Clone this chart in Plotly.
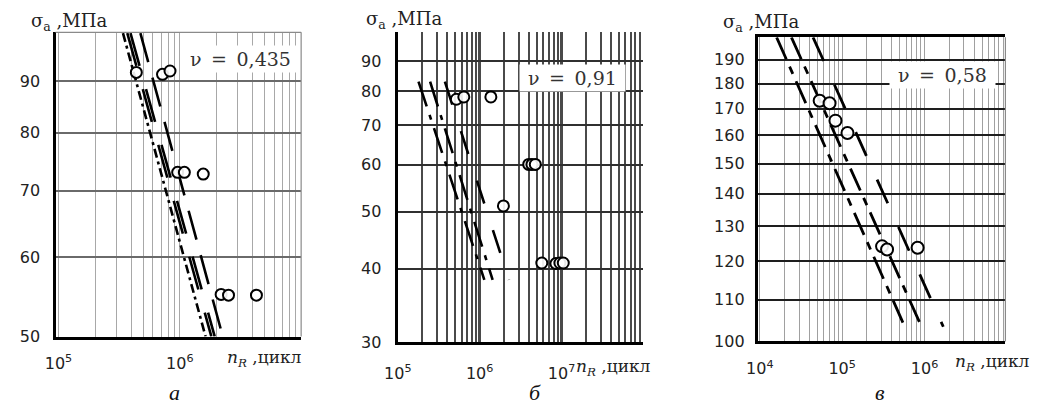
import numpy as np
import plotly.graph_objects as go

# ---------------- data ----------------
# Panel а
a_cycles = [4.38e5, 7.2e5, 8.3e5, 9.6e5, 1.09e6, 1.56e6, 2.19e6, 2.52e6, 4.28e6]
a_stress = [91.9, 91.5, 92.2, 73.0, 73.0, 72.7, 55.1, 55.0, 55.0]
a_curve_cycles = [[3.40e5, 1.63e6], [3.69e5, 1.82e6], [3.92e5, 1.94e6], [4.73e5, 2.26e6]]
a_curve_stress = [100.6, 50.0]
a_nu = "0,435"
a_yticks = [50, 60, 70, 80, 90]
a_xticks = [1e5, 1e6]

# Panel б
b_cycles = [5.19e5, 6.4e5, 1.37e6, 3.97e6, 4.35e6, 4.78e6, 1.95e6, 5.74e6, 8.53e6, 9.55e6, 1.05e7]
b_stress = [77.5, 78.2, 78.2, 60.1, 60.1, 60.1, 51.1, 40.9, 40.8, 40.9, 40.9]
b_curve_cycles = [[1.79e5, 1.14e6], [2.48e5, 1.44e6], [3.76e5, 2.28e6]]
b_curve_stress = [83.0, 38.3]
b_nu = "0,91"
b_yticks = [30, 40, 50, 60, 70, 80, 90]
b_xticks = [1e5, 1e6, 1e7]

# Panel в
c_cycles = [5.33e4, 7.03e4, 8.29e4, 1.16e5, 3.05e5, 3.51e5, 8.24e5]
c_stress = [173.1, 172.1, 165.4, 160.8, 124.2, 123.3, 123.8]
c_curve_cycles = [[1.60e4, 5.75e5], [2.42e4, 9.2e5], [4.43e4, 1.69e6]]
c_curve_stress = [200.0, 103.4]
c_nu = "0,58"
c_yticks = [100, 110, 120, 130, 140, 150, 160, 170, 180, 190]
c_xticks = [1e4, 1e5, 1e6]

panel_letters = ["а", "б", "в"]
y_title = "σ<sub>a</sub> ,МПа"
x_title = "<i>n</i><sub><i>R</i></sub> ,цикл"

# ---------------- layout / style ----------------
PAGE_W, PAGE_H = 1043, 414
BODY = 8                       # default body margin of the html page
W, H = PAGE_W - 2 * BODY, PAGE_H - 2 * BODY
SANS = "DejaVu Sans"
SERIF = "DejaVu Serif"


def px(x):
    return (x - BODY) / W


def py(y):
    return 1 - (y - BODY) / H


def minor_vals(lo, hi):
    vals = []
    for d in range(int(np.floor(lo)), int(np.ceil(hi)) + 1):
        for k in range(2, 10):
            v = k * 10 ** d
            if lo <= np.log10(v) <= hi:
                vals.append(v)
    return vals


panels = [
    dict(cyc=a_cycles, st=a_stress, ccyc=a_curve_cycles, cst=[a_curve_stress] * 4,
         dashes=["9px,4px,3px,4px", "34px,24px", "34px,24px", "30px,16px"],
         nu=a_nu, yt=a_yticks, xt=a_xticks,
         box=(42, 291, 33, 345), xr=(4.9756, 7.0), yr=(np.log10(50), 2.0034),
         vgrid="#a8a8a8", vw=1.4, vmaj=1.4, hgrid="#6a6a6a", hw=1.5,
         msize=11, lw=2.6, xstand=10, ystand=9,
         ytitle=(15, 22), xtitle=(214, 368), nubox=(290, 60), letter=(163, 402),
         axw=3),
    dict(cyc=b_cycles, st=b_stress, ccyc=b_curve_cycles, cst=[b_curve_stress] * 3,
         dashes=["26px,9px,5px,9px", "26px,9px,5px,9px", "24px,28px"],
         nu=b_nu, yt=b_yticks, xt=b_xticks,
         box=(389, 638, 33, 351), xr=(5.0, 8.0), yr=(np.log10(30), 2.0027),
         vgrid="#4a4a4a", vw=1.8, vmaj=3.2, hgrid="#303030", hw=2.0,
         msize=11, lw=2.6, xstand=14, ystand=10,
         ytitle=(355, 20), xtitle=(568, 377), nubox=(620, 80), letter=(528, 402),
         axw=3),
    dict(cyc=c_cycles, st=c_stress, ccyc=c_curve_cycles, cst=[c_curve_stress] * 3,
         dashes=["24px,8px,8px,8px", "24px,8px,8px,8px", "26px,26px"],
         nu=c_nu, yt=c_yticks, xt=c_xticks,
         box=(754, 1005, 38, 350), xr=(3.976, 6.982), yr=(2.0, 2.3011),
         vgrid="#a0a0a0", vw=1.4, vmaj=1.4, hgrid="#1e1e1e", hw=2.0,
         msize=12, lw=2.8, xstand=11, ystand=7,
         ytitle=(717, 23), xtitle=(952, 372), nubox=(995, 77), letter=(878, 402),
         axw=2.6),
]

fig = go.Figure()
annotations = []
shapes = []
layout_axes = {}

for i, p in enumerate(panels):
    n = "" if i == 0 else str(i + 1)
    xa, ya = "x" + n, "y" + n
    x0, x1, y0, y1 = p["box"]

    # curves
    for cx, cs, dash in zip(p["ccyc"], p["cst"], p["dashes"]):
        fig.add_trace(go.Scatter(x=cx, y=cs, mode="lines", xaxis=xa, yaxis=ya,
                                 line=dict(color="black", width=p["lw"], dash=dash),
                                 showlegend=False, hoverinfo="skip"))
    # experimental points
    fig.add_trace(go.Scatter(x=p["cyc"], y=p["st"], mode="markers", xaxis=xa, yaxis=ya,
                             marker=dict(symbol="circle", size=p["msize"], color="rgba(255,255,255,0.9)",
                                         line=dict(color="black", width=2)),
                             showlegend=False))

    layout_axes["xaxis" + n] = dict(
        type="log", domain=[px(x0), px(x1)], range=list(p["xr"]), anchor=ya,
        tickvals=p["xt"],
        ticktext=[f"10<sup>{int(round(np.log10(t)))}</sup>" for t in p["xt"]],
        showgrid=True, gridcolor=p["vgrid"], gridwidth=p["vmaj"],
        minor=dict(tickvals=minor_vals(*p["xr"]), showgrid=True,
                   gridcolor=p["vgrid"], gridwidth=p["vw"], ticks=""),
        showline=True, linecolor="black", linewidth=p["axw"],
        mirror=(i == 2), ticks="", ticklabelstandoff=p["xstand"],
        tickfont=dict(family=SANS, size=16, color="#222"), zeroline=False,
    )
    layout_axes["yaxis" + n] = dict(
        type="log", domain=[py(y1), py(y0)], range=list(p["yr"]), anchor=xa,
        tickvals=p["yt"], ticktext=[str(t) for t in p["yt"]],
        showgrid=True, gridcolor=p["hgrid"], gridwidth=p["hw"],
        showline=True, linecolor="black", linewidth=p["axw"] + 0.4,
        ticks="", ticklabelstandoff=p["ystand"],
        tickfont=dict(family=SANS, size=16, color="#222"), zeroline=False,
    )

    # thin frame on top / right
    if i != 1:
        if i == 0:
            shapes.append(dict(type="line", xref="paper", yref="paper",
                               x0=px(x0), x1=px(x1), y0=py(y0), y1=py(y0),
                               line=dict(color="#8a8a8a", width=1.2)))
        shapes.append(dict(type="line", xref="paper", yref="paper",
                           x0=px(x1), x1=px(x1), y0=py(y0), y1=py(y1),
                           line=dict(color="#8a8a8a", width=1.2)))

    # titles
    tx, ty = p["ytitle"]
    annotations.append(dict(xref="paper", yref="paper", x=px(tx), y=py(ty), xanchor="left",
                            yanchor="middle", showarrow=False, text=y_title,
                            font=dict(family=SERIF, size=18, color="#222")))
    tx, ty = p["xtitle"]
    annotations.append(dict(xref="paper", yref="paper", x=px(tx), y=py(ty), xanchor="left",
                            yanchor="middle", showarrow=False, text=x_title,
                            font=dict(family=SERIF, size=17, color="#222")))
    tx, ty = p["nubox"]
    annotations.append(dict(xref="paper", yref="paper", x=px(tx), y=py(ty), xanchor="right",
                            yanchor="middle", showarrow=False,
                            text="\u00a0\u03bd\u2002=\u2002" + p["nu"] + "\u00a0",
                            bgcolor="white", borderpad=2,
                            font=dict(family=SERIF, size=19, color="#333")))
    tx, ty = p["letter"]
    annotations.append(dict(xref="paper", yref="paper", x=px(tx), y=py(ty), xanchor="center",
                            yanchor="middle", showarrow=False,
                            text="<i>" + panel_letters[i] + "</i>",
                            font=dict(family="Liberation Serif", size=22, color="#111")))

fig.update_layout(
    width=W, height=H, autosize=False,
    margin=dict(l=0, r=0, t=0, b=0, pad=0),
    paper_bgcolor="white", plot_bgcolor="white",
    showlegend=False, annotations=annotations, shapes=shapes,
    **layout_axes,
)

fig.write_html("out.html", config={"displayModeBar": False})
